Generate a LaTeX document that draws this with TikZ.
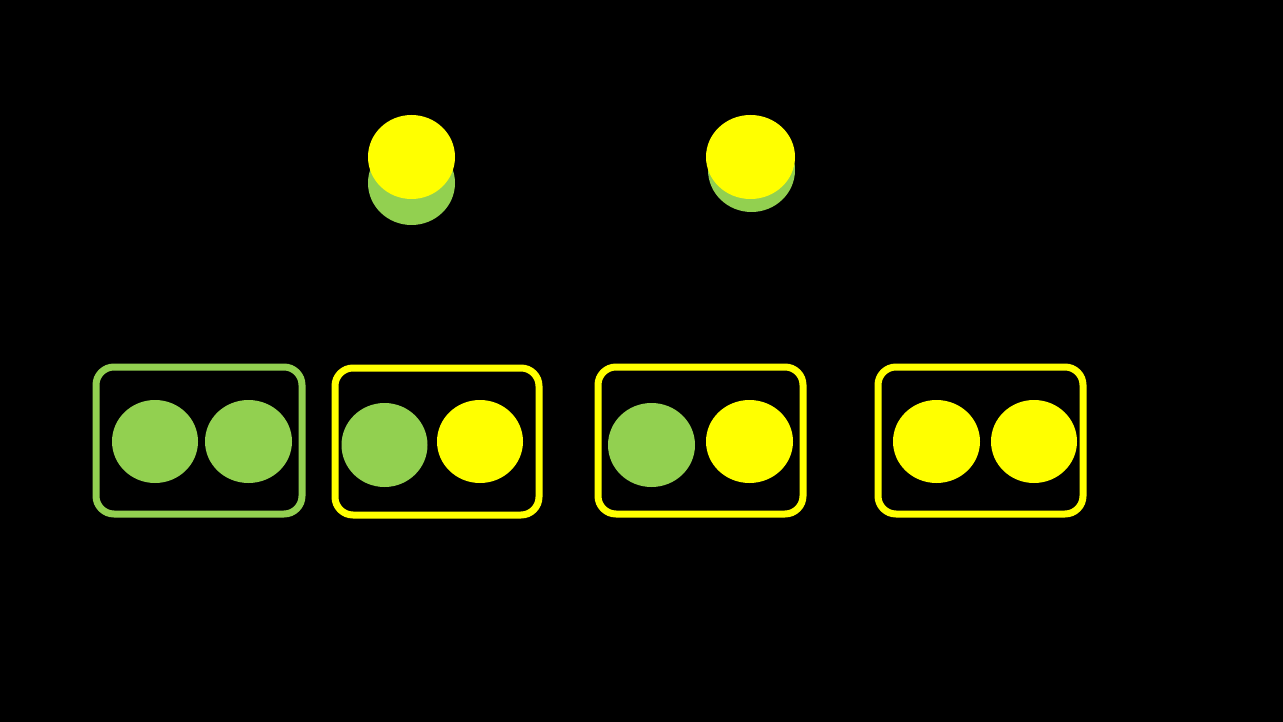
\documentclass[tikz,border=0pt]{standalone}
\usetikzlibrary{shapes.geometric}
\definecolor{lgreen}{HTML}{92D050}
\definecolor{yel}{HTML}{FFFF00}
\begin{document}
\begin{tikzpicture}[x=1pt,y=-1pt,
  dot/.style={ellipse,inner sep=0pt,minimum width=87pt,minimum height=84pt,draw=none},
  gdot/.style={dot,fill=lgreen},
  ydot/.style={dot,fill=yel},
  pairbox/.style={rectangle,rounded corners=18pt,line width=7pt,minimum width=205pt,minimum height=147pt,inner sep=0pt,fill=none}]
\fill[black] (0,0) rectangle (1283,722);
\useasboundingbox (0,0) rectangle (1283,722);
% top stacked circles
\node[gdot] (t1g) at (411.5,183) {};
\node[ydot] (t1y) at (411.5,157) {};
\node[gdot] (t2g) at (751.5,170) {};
\node[ydot,minimum width=89pt] (t2y) at (750.5,157) {};
% boxes
\node[pairbox,draw=lgreen,minimum width=206pt] (b1) at (199,440.5) {};
\node[pairbox,draw=yel,minimum width=204pt] (b2) at (437,441.5) {};
\node[pairbox,draw=yel] (b3) at (700.5,440.5) {};
\node[pairbox,draw=yel] (b4) at (980.5,440.5) {};
% circles in boxes
\node[gdot,minimum width=86pt,minimum height=83pt] (b1a) at (155,441.5) {};
\node[gdot,minimum width=87pt,minimum height=83pt] (b1b) at (248.5,441.5) {};
\node[gdot,minimum width=86pt] (b2a) at (384.5,445) {};
\node[ydot,minimum width=86pt,minimum height=83pt] (b2b) at (480,441.5) {};
\node[gdot,minimum width=87pt] (b3a) at (651.5,445) {};
\node[ydot,minimum width=87pt,minimum height=83pt] (b3b) at (749.5,441.5) {};
\node[ydot,minimum width=87pt,minimum height=83pt] (b4a) at (936.5,441.5) {};
\node[ydot,minimum width=86pt,minimum height=83pt] (b4b) at (1034,441.5) {};
\end{tikzpicture}
\end{document}
